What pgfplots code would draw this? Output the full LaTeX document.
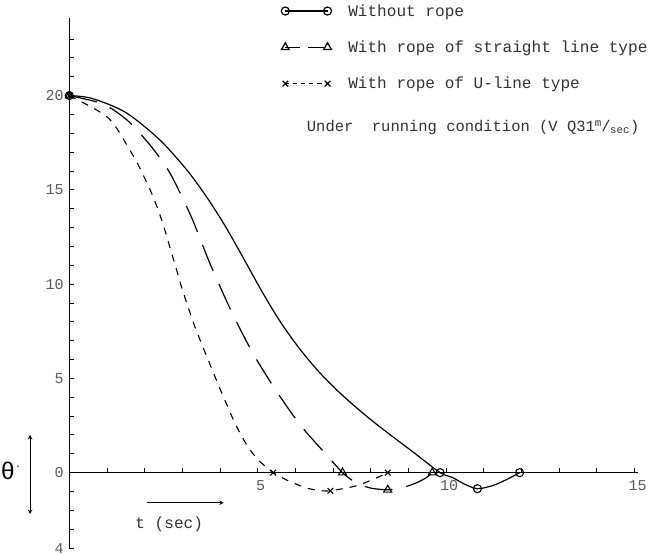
\documentclass[border=0pt]{standalone}
\usepackage{pgfplots}
\pgfplotsset{compat=1.18}
\usepackage{fontspec}
\setmainfont{Liberation Mono}
\definecolor{txt}{HTML}{333333}
\definecolor{tick}{HTML}{5A5A5A}
\begin{document}
\begin{tikzpicture}
\begin{axis}[
  scale only axis, width=566pt, height=527pt,
  xmin=0, xmax=15.1, ymin=-4, ymax=24.1,
  axis x line=middle, axis y line=left,
  axis line style={-, line width=1.3pt, black},
  hide obscured x ticks=false, hide obscured y ticks=false,
  xtick={5,10,15}, minor xtick={1,2,3,4,6,7,8,9,11,12,13,14},
  ytick={-4,0,5,10,15,20}, yticklabels={4,0,5,10,15,20},
  minor ytick={-3,-2,-1,1,2,3,4,6,7,8,9,11,12,13,14,16,17,18,19,21,22,23},
  tick align=inside,
  major tick length=5pt, minor tick length=5pt,
  tick style={line width=0.9pt, black},
  /pgf/number format/assume math mode=true,
  ticklabel style={font=\fontsize{15}{15}\selectfont, text=tick},
  xticklabel style={yshift=-4pt, xshift=3pt},
  yticklabel style={xshift=-2pt},
  clip=false,
  legend cell align=left,
  legend image code/.code={\draw[#1] plot coordinates {(0pt,0pt) (42pt,0pt)}; \path (60pt,0pt);},
  legend style={draw=none, fill=none, at={(axis cs:5.62,24.95)}, anchor=north west,
    font=\fontsize{16}{18}\selectfont, text=txt, row sep=19pt, inner sep=0pt,
    cells={anchor=west}},
]
% legend images
\addlegendimage{black, line width=1.2pt, mark=o, mark size=4pt, mark options={solid, fill=white}}
\addlegendentry{Without rope}
\addlegendimage{black, line width=1.2pt, dash pattern=on 15pt off 8pt, mark=triangle, mark size=4.5pt, mark options={solid, fill=white}}
\addlegendentry{With rope of straight line type}
\addlegendimage{black, line width=1.2pt, dash pattern=on 4pt off 4pt, mark=x, mark size=4pt, mark options={solid}}
\addlegendentry{With rope of U-line type}

% Without rope (solid)
\addplot[black, line width=1.2pt, smooth, tension=0.5, forget plot] coordinates {
(0,20) (0.6,19.85) (1.5,19.1) (2.4,17.65) (3.1,16.1) (3.6,14.75) (4.1,13.2) (4.6,11.45)
(5.1,9.65) (5.6,8.0) (6.1,6.6) (6.6,5.4) (7.1,4.38) (7.6,3.48) (8.1,2.65) (8.6,1.88)
(9.1,1.13) (9.84,0)
(10.16,-0.25) (10.5,-0.62) (10.83,-0.85) (11.23,-0.69) (11.6,-0.37) (11.95,0)};
% Straight line type (long dashed)
\addplot[black, line width=1.2pt, dash pattern=on 28pt off 14pt, smooth, tension=0.45, forget plot] coordinates {
(0,20) (0.9,19.55) (1.55,18.67) (2.16,17.33) (2.67,15.89) (3.23,13.6) (3.73,11.1)
(4.29,8.6) (4.88,6.3) (5.55,4.16) (6.16,2.45) (6.8,1.0) (7.25,0)
(7.6,-0.53) (8.0,-0.82) (8.45,-0.91) (8.83,-0.8) (9.2,-0.55) (9.47,-0.27) (9.63,0)};
% U-line type (short dashed)
\addplot[black, line width=1.1pt, dash pattern=on 7pt off 7pt, smooth, tension=0.45, forget plot] coordinates {
(0,20) (0.67,19.3) (1.04,18.8) (1.28,18.2) (1.55,17.3) (1.81,16.4) (2.03,15.5) (2.21,14.7)
(2.4,13.7) (2.56,12.7) (2.72,11.6) (2.87,10.6) (3.0,9.7) (3.33,7.75) (3.68,6.0) (4.03,4.3)
(4.4,2.6) (4.7,1.5) (5.0,0.7) (5.41,0) (5.81,-0.43)
(6.27,-0.8) (6.61,-0.94) (6.93,-0.96) (7.63,-0.69) (8.16,-0.27) (8.45,0)};

% markers
\addplot[only marks, black, line width=1.1pt, mark=o, mark size=4pt, mark options={fill=white}, forget plot] coordinates {
(0,20) (9.84,0) (10.83,-0.85) (11.95,0)};
\addplot[only marks, black, line width=1.1pt, mark=triangle, mark size=4.5pt, mark options={fill=white}, forget plot] coordinates {
(0,20) (7.25,0) (8.45,-0.91) (9.63,0)};
\addplot[only marks, black, line width=1.1pt, mark=x, mark size=4pt, forget plot] coordinates {
(0,20) (5.41,0) (6.93,-0.96) (8.45,0)};

% annotation text
\node[anchor=west, text=txt, font=\fontsize{15.4}{18}\selectfont, inner sep=0pt] at (axis cs:6.3,18.3)
  {Under\ \ running condition (V Q31\textsuperscript{m}\kern-0.5pt/\kern-0.5pt\textsubscript{sec})};
% y label with arrow
\node[text=black, font=\fontsize{24}{24}\selectfont, inner sep=0pt] at (axis cs:-1.55,0.1)
  {θ\raisebox{0.5em}{\fontsize{10}{10}\selectfont .}};
\draw[<->, >=stealth, line width=1pt] (axis cs:-1.04,2.0) -- (axis cs:-1.04,-2.2);
% x label with arrow
\node[text=txt, font=\fontsize{16}{18}\selectfont, inner sep=0pt] at (axis cs:2.65,-2.75) {t (sec)};
\draw[->, >=stealth, line width=1pt] (axis cs:2.05,-1.6) -- (axis cs:4.1,-1.6);

\coordinate (bbsw) at (axis cs:-1.84,-4.35);
\coordinate (bbne) at (axis cs:15.41,25.07);
\end{axis}
\pgfresetboundingbox
\path (bbsw) rectangle (bbne);
\end{tikzpicture}
\end{document}
